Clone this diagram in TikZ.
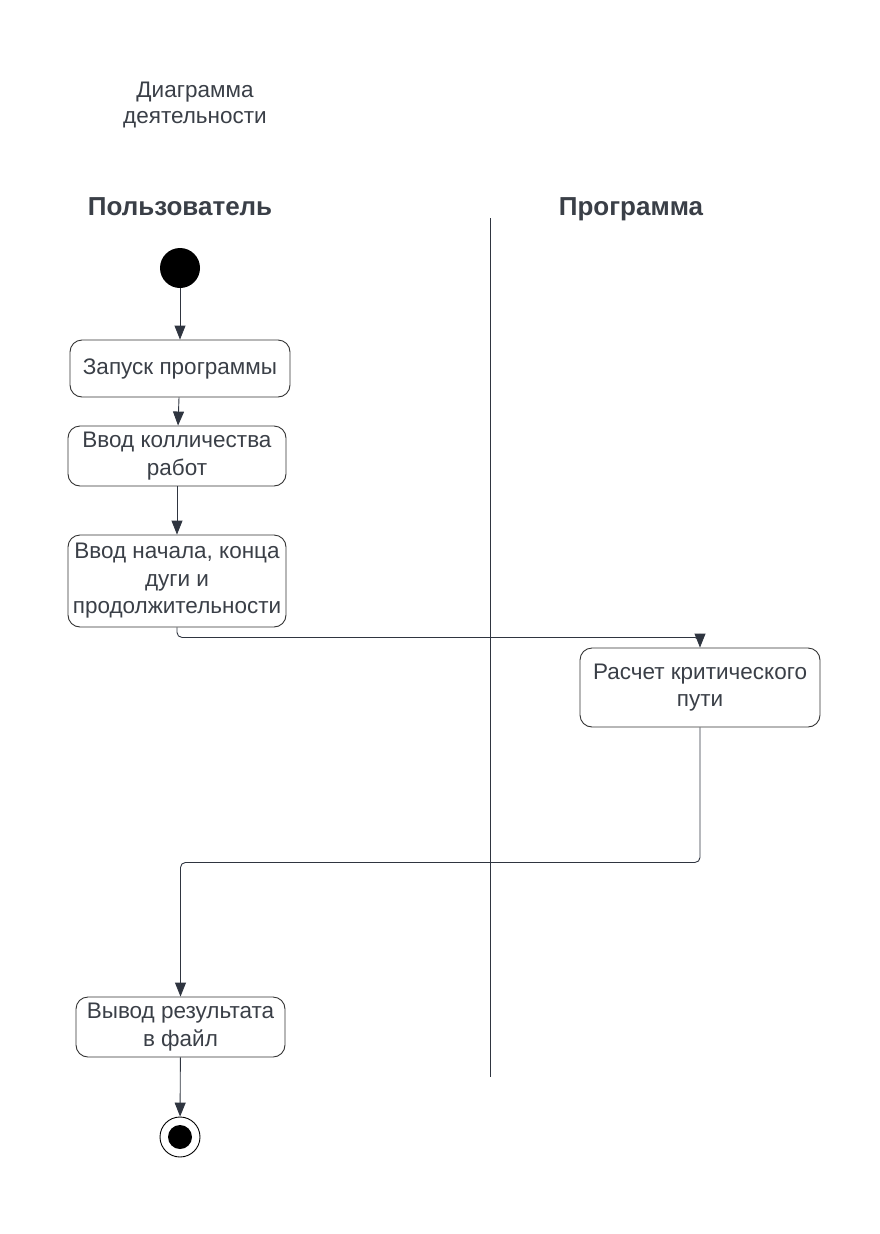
\documentclass[tikz,border=0pt]{standalone}
\usepackage{fontspec}
\setmainfont{Liberation Sans}
\usetikzlibrary{arrows.meta}
\definecolor{ink}{HTML}{3A3F47}
\definecolor{wire}{HTML}{2F3540}
\begin{document}
\begin{tikzpicture}[x=1pt,y=-1pt,
  act/.style={draw=black!80,line width=0.9pt,rounded corners=12pt,align=center,inner sep=0pt,
    font=\fontsize{22.5}{27.5}\selectfont,text=ink},
  flow/.style={draw=wire,line width=0.9pt,-{Triangle[width=11pt,length=14pt]}},
  lane/.style={font=\fontsize{26}{30}\selectfont\bfseries,text=ink,anchor=base}]
\useasboundingbox (0,0) rectangle (880,1234);
% title and swimlanes
\node[align=center,font=\fontsize{22.5}{26}\selectfont,text=ink] (title) at (195,105) {Диаграмма\\деятельности};
\node[lane] (user) at (180,215) {Пользователь};
\node[lane] (prog) at (631,215) {Программа};
\draw[wire,line width=0.8pt] (490,218) -- (490,1077);
% states
\node[circle,fill=black,minimum size=40pt,inner sep=0pt] (start) at (180,268) {};
\node[act,minimum width=220pt,minimum height=57pt] (run) at (180,368.5) {Запуск программы};
\node[act,minimum width=218pt,minimum height=60pt] (count) at (177,456) {Ввод колличества\\работ};
\node[act,minimum width=218pt,minimum height=92pt] (input) at (177,581) {Ввод начала, конца\\дуги и\\продолжительности};
\node[act,minimum width=240pt,minimum height=79pt] (calc) at (700,687.5) {Расчет критического\\пути};
\node[act,minimum width=209pt,minimum height=60pt] (output) at (180.5,1027) {Вывод результата\\в файл};
\node[circle,draw=black,line width=0.9pt,minimum size=40pt,inner sep=0pt] (stop) at (180,1137) {};
\fill[black] (stop.center) circle (12);
% transitions
\draw[flow] (start) -- (run);
\draw[flow] (run) -- (count);
\draw[flow] (count) -- (input);
\draw[flow,rounded corners=5pt] (input.south) -- ++(0,10) -| (calc.north);
\draw[flow,rounded corners=5pt] (calc.south) -- ++(0,135) -| (output.north);
\draw[flow] (output) -- (stop);
\end{tikzpicture}
\end{document}
